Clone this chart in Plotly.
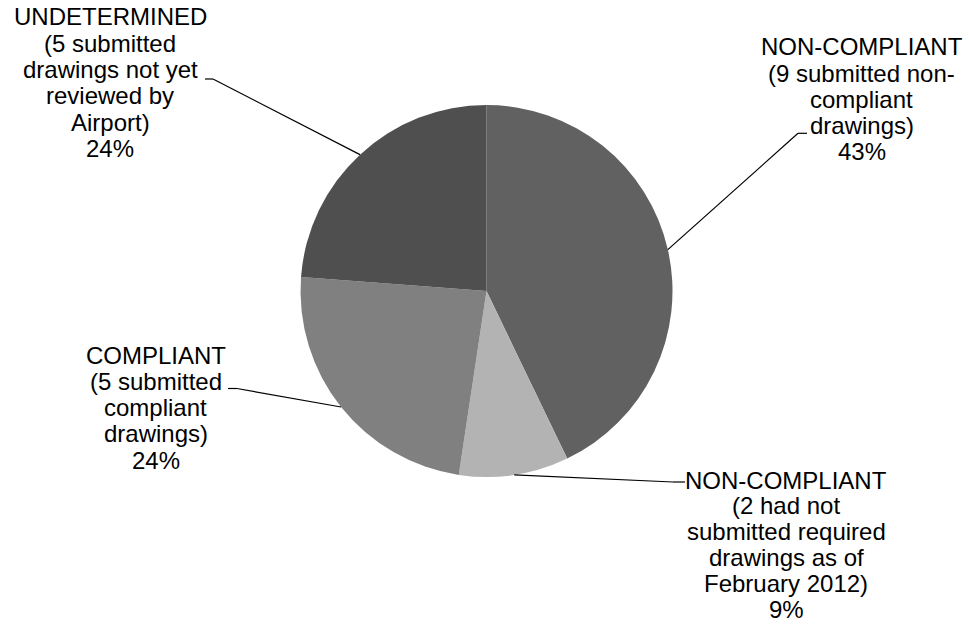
import math
import plotly.graph_objects as go

# ---------------- data ----------------
categories = [
    "NON-COMPLIANT (9 submitted non-compliant drawings)",
    "NON-COMPLIANT (2 had not submitted required drawings as of February 2012)",
    "COMPLIANT (5 submitted compliant drawings)",
    "UNDETERMINED (5 submitted drawings not yet reviewed by Airport)",
]
values = [9, 2, 5, 5]
pct_labels = ["43%", "9%", "24%", "24%"]
label_lines = [
    ["NON-COMPLIANT", "(9 submitted non-", "compliant", "drawings)"],
    ["NON-COMPLIANT", "(2 had not", "submitted required", "drawings as of", "February 2012)"],
    ["COMPLIANT", "(5 submitted", "compliant", "drawings)"],
    ["UNDETERMINED", "(5 submitted", "drawings not yet", "reviewed by", "Airport)"],
]
colors = ["#616161", "#b3b3b3", "#808080", "#4f4f4f"]

# ---------------- layout constants (pixels) ----------------
W, H = 969, 626
CX, CY, R = 486.5, 291.0, 186.0
FONT = "Liberation Sans, Arial, sans-serif"
FS = 24
LINE_H = 26.3

# label block placement: (center x, first line y, line spacing) and elbow (text-end, knee)
label_pos = [(861.7, 46.7, LINE_H), (786.0, 480.0, 25.8), (155.7, 355.0, LINE_H), (110.0, 17.0, LINE_H)]
elbows = [((807, 133.3), (798, 133.3)),
          ((685, 482.0), (673, 482.0)),
          ((228, 388.5), (237, 388.5)),
          ((205, 79.0), (213, 79.0))]


def px(x):
    return x / W


def py(y):
    return 1 - y / H


fig = go.Figure()
fig.add_trace(go.Pie(
    labels=categories,
    values=values,
    marker=dict(colors=colors, line=dict(width=0)),
    sort=False,
    direction="clockwise",
    rotation=0,
    textinfo="none",
    hoverinfo="label+percent",
    showlegend=False,
    domain=dict(x=[px(CX - R), px(CX + R)], y=[py(CY + R), py(CY - R)]),
))

annotations = []
shapes = []
total = sum(values)
cum = 0
for i, v in enumerate(values):
    lines = label_lines[i] + [pct_labels[i]]
    lx, ly, lh = label_pos[i]
    for j, t in enumerate(lines):
        annotations.append(dict(
            x=px(lx), y=py(ly + j * lh), xref="paper", yref="paper",
            text=t, showarrow=False, xanchor="center", yanchor="middle",
            borderpad=0,
            font=dict(family=FONT, size=FS, color="#000000"),
        ))
    # leader line from slice mid-angle on pie edge to label elbow
    frac = (cum + v / 2) / total
    theta = 2 * math.pi * frac
    ex = CX + R * math.sin(theta)
    ey = CY - R * math.cos(theta)
    (tx, ty), (kx, ky) = elbows[i]
    shapes.append(dict(type="line", xref="paper", yref="paper",
                       x0=px(tx), y0=py(ty), x1=px(kx), y1=py(ky),
                       line=dict(color="#000000", width=1.2)))
    shapes.append(dict(type="line", xref="paper", yref="paper",
                       x0=px(kx), y0=py(ky), x1=px(ex), y1=py(ey),
                       line=dict(color="#000000", width=1.2)))
    cum += v

fig.update_layout(
    width=W, height=H,
    margin=dict(l=0, r=0, t=0, b=0),
    paper_bgcolor="white",
    plot_bgcolor="white",
    annotations=annotations,
    shapes=shapes,
)

fig.write_html("out.html")
